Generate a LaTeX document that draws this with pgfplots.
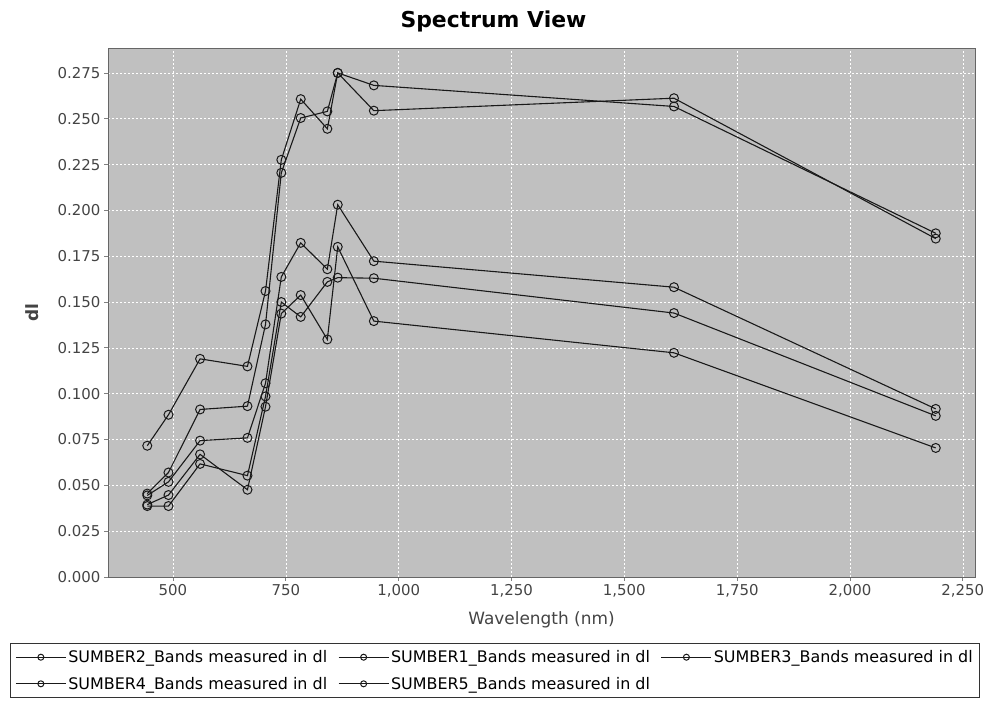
\documentclass[border=0pt]{standalone}
\usepackage{fontspec}
\setmainfont{DejaVu Sans}
\usepackage{pgfplots}
\pgfplotsset{compat=1.18}
\definecolor{plotbg}{RGB}{192,192,192}
\definecolor{labgray}{RGB}{68,68,68}
\pgfplotsset{ser/.style={black!90, solid, line width=1.1bp, mark=o, mark size=4.5bp, mark options={solid, line width=1bp}}}
\begin{document}
\begin{tikzpicture}[x=1bp,y=1bp]
\useasboundingbox (0,0) rectangle (987,705);
\begin{axis}[
  at={(108bp,128bp)}, anchor=south west,
  scale only axis, width=867bp, height=529bp,
  xmin=356, xmax=2277, ymin=0, ymax=0.2886,
  axis background/.style={fill=plotbg},
  axis line style={gray!80!black, line width=0.8bp},
  xtick={500,750,1000,1250,1500,1750,2000,2250},
  ytick={0,0.025,0.05,0.075,0.1,0.125,0.15,0.175,0.2,0.225,0.25,0.275},
  /pgf/number format/assume math mode=true,
  xticklabel style={/pgf/number format/.cd, 1000 sep={,}},
  yticklabel style={/pgf/number format/.cd, fixed, fixed zerofill, precision=3},
  ticklabel style={font=\fontsize{15}{17}\selectfont, text=labgray},
  tick pos=left, tick align=outside, major tick length=4bp,
  tick style={gray, line width=0.8bp},
  grid=major,
  major grid style={white, dash pattern=on 2bp off 2bp, line width=0.6bp},
  title={\textbf{Spectrum View}},
  title style={at={(axis description cs:0.4446,1.0265)}, anchor=base, font=\fontsize{22}{26}\selectfont},
  xlabel={Wavelength (nm)},
  xlabel style={at={(axis description cs:0.5,-0.0813)}, anchor=center, font=\fontsize{17}{20}\selectfont, text=labgray},
  ylabel={dl},
  ylabel style={at={(axis description cs:-0.0877,0.5)}, anchor=center, rotate=0, font=\fontsize{17}{20}\selectfont\bfseries, text=labgray},
  legend columns=3,
  legend cell align=left,
  legend style={at={(axis description cs:-0.113,-0.1248)}, anchor=north west, draw=black!80, line width=0.8bp, fill=white,
    font=\fontsize{16}{19}\selectfont, inner xsep=5bp, inner ysep=5bp, row sep=9bp,
    /tikz/every even column/.append style={column sep=9bp}},
  legend image code/.code={\draw[#1, mark size=3bp, line width=0.9bp, mark repeat=2, mark phase=2] plot coordinates {(0bp,0bp) (25bp,0bp) (50bp,0bp)};},
]
\addplot[ser] coordinates {(443,0.0716) (490,0.0885) (560,0.1190) (665,0.1149) (705,0.1560) (740,0.2276) (783,0.2607) (842,0.2445) (865,0.2750) (945,0.2682) (1610,0.2567) (2190,0.1875)};
\addlegendentry{SUMBER2\_Bands measured in dl}
\addplot[ser] coordinates {(443,0.0455) (490,0.0570) (560,0.0914) (665,0.0932) (705,0.1378) (740,0.2205) (783,0.2504) (842,0.2540) (865,0.2750) (945,0.2544) (1610,0.2612) (2190,0.1846)};
\addlegendentry{SUMBER1\_Bands measured in dl}
\addplot[ser] coordinates {(443,0.0445) (490,0.0519) (560,0.0744) (665,0.0759) (705,0.1057) (740,0.1637) (783,0.1823) (842,0.1679) (865,0.2031) (945,0.1723) (1610,0.1581) (2190,0.0917)};
\addlegendentry{SUMBER3\_Bands measured in dl}
\addplot[ser] coordinates {(443,0.0395) (490,0.0447) (560,0.0669) (665,0.0476) (705,0.0929) (740,0.1437) (783,0.1538) (842,0.1296) (865,0.1801) (945,0.1396) (1610,0.1223) (2190,0.0704)};
\addlegendentry{SUMBER4\_Bands measured in dl}
\addplot[ser] coordinates {(443,0.0387) (490,0.0387) (560,0.0617) (665,0.0553) (705,0.0985) (740,0.1500) (783,0.1419) (842,0.1610) (865,0.1633) (945,0.1630) (1610,0.1440) (2190,0.0879)};
\addlegendentry{SUMBER5\_Bands measured in dl}
\end{axis}
\end{tikzpicture}
\end{document}
